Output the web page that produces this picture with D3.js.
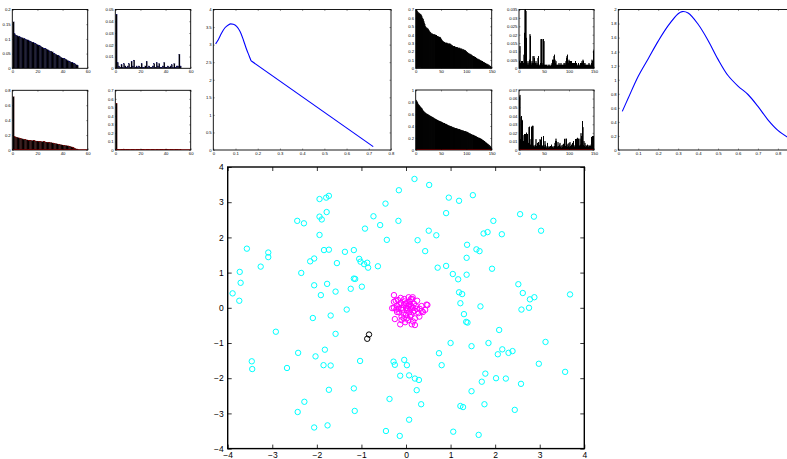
<!DOCTYPE html>
<html><head><meta charset="utf-8">
<script src="https://cdn.jsdelivr.net/npm/d3@7"></script>
<style>
html,body{margin:0;padding:0;background:#fff;}
svg{display:block;font-family:"Liberation Sans",Arial,Helvetica,sans-serif;}
</style></head>
<body>
<script>
// ---------------- DATA ----------------
// Top-left histograms (52 bins each, x 1..52)
const histA = [0.158,0.117,0.113,0.111,0.109,0.107,0.105,0.104,0.102,0.100,0.098,0.097,0.095,0.093,0.091,0.089,0.087,0.085,0.083,0.081,0.079,0.077,0.074,0.072,0.069,0.068,0.066,0.064,0.061,0.059,0.058,0.056,0.052,0.049,0.047,0.045,0.043,0.040,0.037,0.035,0.034,0.032,0.030,0.027,0.025,0.023,0.021,0.019,0.017,0.015,0.012,0.010];
const histB = [0.046,0.005,0.002,0.001,0.003,0.001,0.004,0.002,0.001,0.002,0.004,0.001,0.006,0.002,0.007,0.001,0.002,0.001,0.002,0.001,0.004,0.001,0.001,0.002,0.006,0.001,0.002,0.001,0.001,0.002,0.004,0.001,0.005,0.002,0.004,0.001,0.001,0.002,0.005,0.001,0.001,0.002,0.001,0.002,0.003,0.001,0.004,0.001,0.002,0.002,0.012,0.002];
const histC = [0.715,0.180,0.175,0.170,0.165,0.160,0.155,0.150,0.145,0.140,0.137,0.135,0.133,0.131,0.129,0.127,0.125,0.123,0.121,0.120,0.118,0.116,0.114,0.113,0.111,0.109,0.107,0.105,0.104,0.102,0.099,0.095,0.092,0.088,0.085,0.081,0.077,0.073,0.070,0.067,0.064,0.062,0.059,0.056,0.054,0.049,0.043,0.036,0.029,0.022,0.015,0.009];
const histD = [0.547,0.004,0.003,0.005,0.004,0.003,0.012,0.006,0.003,0.002,0.004,0.003,0.002,0.003,0.004,0.002,0.003,0.002,0.003,0.002,0.003,0.004,0.002,0.003,0.002,0.003,0.002,0.003,0.004,0.003,0.002,0.003,0.002,0.003,0.004,0.002,0.003,0.002,0.003,0.004,0.002,0.003,0.002,0.003,0.002,0.003,0.004,0.002,0.003,0.002,0.003,0.002];
// Right histograms (150 bins each, x 1..150)
const histE = [0.70,0.69,0.68,0.67,0.66,0.66,0.65,0.65,0.64,0.64,0.63,0.62,0.60,0.59,0.58,0.56,0.54,0.52,0.50,0.49,0.48,0.48,0.47,0.47,0.46,0.45,0.44,0.43,0.43,0.42,0.41,0.41,0.41,0.40,0.40,0.40,0.40,0.40,0.39,0.39,0.39,0.38,0.38,0.38,0.37,0.37,0.37,0.37,0.36,0.35,0.34,0.33,0.32,0.32,0.31,0.31,0.31,0.30,0.30,0.30,0.30,0.30,0.29,0.29,0.29,0.29,0.29,0.29,0.28,0.28,0.27,0.27,0.26,0.26,0.26,0.26,0.26,0.25,0.25,0.25,0.25,0.25,0.24,0.24,0.24,0.24,0.24,0.23,0.23,0.23,0.23,0.22,0.22,0.22,0.22,0.21,0.21,0.21,0.20,0.20,0.19,0.19,0.18,0.18,0.17,0.17,0.17,0.16,0.16,0.16,0.15,0.15,0.14,0.14,0.14,0.13,0.13,0.13,0.12,0.12,0.11,0.11,0.11,0.10,0.10,0.10,0.09,0.09,0.09,0.08,0.08,0.08,0.07,0.07,0.07,0.06,0.06,0.06,0.05,0.05,0.05,0.04,0.04,0.04,0.03,0.03,0.02,0.02,0.01,0.01];
const histF = [0.004,0.013,0.003,0.002,0.004,0.003,0.004,0.002,0.003,0.008,0.021,0.035,0.035,0.034,0.018,0.003,0.002,0.004,0.002,0.003,0.005,0.020,0.019,0.003,0.002,0.004,0.003,0.007,0.003,0.007,0.006,0.002,0.003,0.004,0.002,0.003,0.002,0.006,0.007,0.002,0.001,0.002,0.003,0.017,0.017,0.017,0.002,0.003,0.017,0.016,0.002,0.001,0.002,0.001,0.002,0.001,0.001,0.002,0.001,0.002,0.001,0.002,0.001,0.001,0.002,0.003,0.005,0.004,0.005,0.007,0.008,0.005,0.003,0.004,0.002,0.001,0.002,0.001,0.002,0.003,0.002,0.001,0.002,0.003,0.002,0.001,0.002,0.001,0.002,0.003,0.002,0.003,0.002,0.004,0.006,0.007,0.008,0.004,0.003,0.005,0.004,0.003,0.004,0.003,0.004,0.002,0.003,0.002,0.003,0.002,0.003,0.002,0.004,0.002,0.003,0.002,0.001,0.002,0.003,0.002,0.001,0.002,0.003,0.002,0.003,0.004,0.003,0.005,0.004,0.003,0.002,0.003,0.002,0.001,0.002,0.001,0.002,0.001,0.002,0.003,0.002,0.002,0.001,0.002,0.003,0.005,0.004,0.003,0.010,0.011];
const histG = [0.83,0.81,0.80,0.78,0.76,0.75,0.74,0.73,0.72,0.71,0.70,0.69,0.68,0.66,0.65,0.64,0.63,0.62,0.62,0.61,0.60,0.60,0.59,0.59,0.58,0.58,0.57,0.57,0.56,0.56,0.55,0.55,0.54,0.54,0.53,0.53,0.52,0.52,0.51,0.51,0.50,0.50,0.49,0.49,0.48,0.48,0.48,0.47,0.47,0.47,0.46,0.46,0.45,0.45,0.44,0.44,0.44,0.43,0.43,0.43,0.42,0.42,0.41,0.41,0.40,0.40,0.40,0.39,0.39,0.39,0.38,0.38,0.38,0.37,0.37,0.37,0.36,0.36,0.36,0.36,0.35,0.35,0.35,0.34,0.34,0.34,0.34,0.33,0.33,0.33,0.32,0.32,0.32,0.32,0.31,0.31,0.31,0.31,0.30,0.30,0.30,0.29,0.29,0.28,0.28,0.27,0.27,0.27,0.26,0.26,0.25,0.25,0.25,0.24,0.24,0.23,0.23,0.23,0.22,0.22,0.21,0.21,0.20,0.20,0.20,0.19,0.19,0.18,0.18,0.18,0.17,0.16,0.16,0.15,0.14,0.14,0.13,0.12,0.12,0.11,0.10,0.10,0.09,0.08,0.08,0.07,0.06,0.05,0.04,0.02];
const histH = [0.062,0.064,0.012,0.038,0.039,0.035,0.034,0.006,0.010,0.017,0.018,0.005,0.018,0.004,0.020,0.006,0.018,0.003,0.008,0.026,0.027,0.004,0.006,0.012,0.027,0.005,0.028,0.028,0.004,0.005,0.003,0.004,0.006,0.012,0.004,0.003,0.008,0.004,0.009,0.003,0.005,0.012,0.011,0.004,0.015,0.005,0.004,0.003,0.016,0.005,0.003,0.010,0.006,0.003,0.002,0.004,0.008,0.003,0.002,0.004,0.003,0.002,0.004,0.003,0.006,0.002,0.003,0.004,0.002,0.003,0.004,0.008,0.010,0.013,0.010,0.004,0.003,0.009,0.004,0.003,0.006,0.008,0.003,0.004,0.002,0.005,0.003,0.006,0.007,0.003,0.012,0.013,0.004,0.003,0.013,0.005,0.003,0.007,0.004,0.008,0.003,0.009,0.004,0.003,0.006,0.004,0.008,0.003,0.010,0.004,0.003,0.005,0.012,0.004,0.012,0.013,0.014,0.004,0.013,0.005,0.004,0.013,0.006,0.019,0.016,0.004,0.033,0.026,0.005,0.010,0.004,0.008,0.003,0.005,0.004,0.003,0.006,0.004,0.003,0.005,0.004,0.003,0.004,0.006,0.015,0.004,0.016,0.015,0.016,0.004];

// Line chart 1 (hump then straight descent)
const line1HumpX = [0.0105,0.0225,0.0375,0.0525,0.0676,0.078,0.09,0.105,0.12,0.135,0.15,0.162,0.17];
const line1HumpY = [3.02,3.14,3.33,3.48,3.56,3.59,3.58,3.52,3.38,3.14,2.86,2.67,2.54];
const line1TailX = [0.17,0.72];
const line1TailY = [2.54,0.095];

// Line chart 2 (smooth density-like curve)
const line2X = [0.02,0.05,0.10,0.15,0.20,0.25,0.30,0.32,0.35,0.40,0.45,0.50,0.55,0.60,0.65,0.70,0.75,0.80,0.85];
const line2Y = [0.55,0.74,1.05,1.30,1.55,1.77,1.94,1.97,1.95,1.79,1.56,1.29,1.06,0.91,0.79,0.62,0.43,0.28,0.18];

// Scatter: cyan points
const cyanX = [-1.73,-1.79,-1.94,-1.78,-1.94,-1.89,-0.46,-0.73,-0.92,-0.58,-0.43,-1.94,-2.44,-2.29,-3.57,-3.09,-3.09,-3.26,-3.73,-3.71,-3.89,-3.74,-2.35,-2.15,-2.06,-1.84,-1.73,-1.55,-1.37,-1.17,-1.05,-1.02,-0.94,-0.87,-0.85,-0.63,-1.17,-1.14,-2.06,-1.77,-1.91,-1.58,-1.24,-0.99,-1.33,
 0.19,-0.16,0.52,0.96,1.19,1.50,0.90,-0.17,0.51,0.68,0.26,0.43,1.37,1.36,1.58,1.65,1.74,1.83,1.96,2.15,2.56,2.87,3.03,0.71,0.90,1.05,1.17,1.36,1.93,2.52,2.62,2.88,2.78,3.68,1.19,1.26,1.22,1.67,2.59,2.76,
 1.30,1.35,1.38,2.09,1.00,1.85,1.47,3.13,0.74,2.16,2.06,2.30,2.39,2.98,3.57,-0.28,-0.25,-0.04,0.02,0.80,-0.13,0.07,0.20,0.29,1.78,1.70,2.02,2.24,2.58,0.24,1.47,0.34,1.22,1.28,1.76,2.44,0.07,1.06,-0.14,1.63,-0.37,
 -2.09,-1.69,-2.92,-1.58,-2.42,-2.03,-1.82,-3.46,-3.45,-2.67,-1.85,-1.69,-1.03,-1.73,-1.17,-2.28,-2.43,-1.15,-2.06,-1.76,-0.45];
const cyanY = [3.18,3.13,3.09,2.72,2.59,2.51,2.96,2.60,2.25,2.35,1.93,2.07,2.47,2.40,1.68,1.57,1.44,1.17,1.02,0.71,0.41,0.20,0.99,1.32,1.40,1.64,1.65,1.27,1.59,1.64,1.39,1.31,1.24,1.28,1.14,1.18,0.83,0.82,0.64,0.68,0.36,0.46,0.54,0.60,-0.05,
 3.66,3.34,3.49,3.13,3.04,3.20,2.69,2.47,2.19,2.06,1.92,1.61,1.79,1.42,1.66,1.61,2.11,2.15,2.47,2.09,2.66,2.59,2.19,1.14,1.19,0.96,0.81,0.94,1.11,0.67,0.42,0.30,0.24,0.38,0.44,0.39,0.13,0.04,-0.05,0.00,
 -0.18,-0.40,-0.42,-0.63,-1.00,-1.00,-1.09,-0.97,-1.29,-1.18,-1.32,-1.28,-1.23,-1.59,-1.82,-1.53,-1.62,-1.48,-1.63,-1.63,-1.93,-1.92,-2.01,-2.05,-1.87,-2.10,-2.00,-2.01,-2.16,-2.34,-2.37,-2.74,-2.79,-2.82,-2.74,-2.90,-3.18,-3.52,-3.64,-3.61,-2.59,
 -0.29,-0.22,-0.68,-0.74,-1.28,-1.38,-1.19,-1.52,-1.74,-1.71,-1.63,-1.64,-1.51,-2.33,-2.29,-2.67,-2.96,-2.93,-3.40,-3.34,-3.50];
// Scatter: magenta cluster
const magentaX = [-0.27,-0.23,-0.04,0.11,0.14,-0.12,0.00,0.07,-0.27,-0.17,-0.10,0.00,0.16,0.24,0.31,0.43,0.48,0.35,-0.15,-0.06,0.07,0.16,-0.25,-0.10,0.02,0.09,0.20,-0.13,0.16,0.20,-0.02,0.05,-0.31,-0.27,0.46,0.13,-0.20,
 0.05,-0.05,0.12,0.02,-0.08,0.18,0.10,-0.03,0.08,0.22,-0.15,0.00,0.12,-0.20,0.28,-0.05,0.06,-0.12,0.25,0.35,0.04,-0.10,0.15,-0.18,0.30,0.09,-0.22,0.19,0.01,0.38];
const magentaY = [0.36,0.20,0.25,0.25,0.25,0.13,0.13,0.08,0.00,-0.03,0.00,0.00,0.00,-0.03,-0.03,-0.06,0.08,-0.09,-0.13,-0.16,-0.13,-0.11,-0.32,-0.25,-0.30,-0.25,-0.30,-0.47,-0.39,-0.49,-0.41,-0.35,-0.01,0.17,0.09,-0.47,0.06,
 0.05,0.08,0.05,-0.08,-0.06,0.12,-0.05,0.18,0.18,0.05,0.10,-0.20,-0.20,-0.12,-0.15,-0.30,0.30,0.28,0.20,0.05,-0.02,-0.35,0.30,0.22,-0.25,0.10,-0.05,-0.08,0.10,-0.12];
// Scatter: black points
const blackX = [-0.83,-0.87];
const blackY = [-0.76,-0.88];

// Tick values
const ticks60 = [0,20,40,60];
const ticks150 = [0,50,100,150];
const ticksA = [0,0.05,0.1,0.15,0.2];
const ticksB = [0,0.01,0.02,0.03,0.04,0.05];
const ticksC = [0,0.2,0.4,0.6,0.8];
const ticksD = [0,0.1,0.2,0.3,0.4,0.5,0.6,0.7];
const ticksE = [0,0.1,0.2,0.3,0.4,0.5,0.6,0.7];
const ticksF = [0,0.005,0.01,0.015,0.02,0.025,0.03,0.035];
const ticksG = [0,0.2,0.4,0.6,0.8,1];
const ticksH = [0,0.01,0.02,0.03,0.04,0.05,0.06,0.07];
const ticksL1x = [0,0.1,0.2,0.3,0.4,0.5,0.6,0.7,0.8];
const ticksL1y = [0,0.5,1,1.5,2,2.5,3,3.5,4];
const ticksL2x = [0,0.1,0.2,0.3,0.4,0.5,0.6,0.7,0.8];
const ticksL2y = [0,0.2,0.4,0.6,0.8,1,1.2,1.4,1.6,1.8,2];
const ticksS = [-4,-3,-2,-1,0,1,2,3,4];

// ---------------- DRAW ----------------
const W = 787, H = 459;
const svg = d3.select("body").append("svg").attr("width", W).attr("height", H);
svg.append("rect").attr("width", W).attr("height", H).attr("fill", "#fff");
const defs = svg.append("defs");
let clipN = 0;

function panel(L, T, R, B, xd, yd, xt, yt, o) {
  const fs = o.fs, tl = o.tl, lw = o.lw;
  const x = d3.scaleLinear().domain(xd).range([L, R]);
  const y = d3.scaleLinear().domain(yd).range([B, T]);
  const id = "clip" + (clipN++);
  defs.append("clipPath").attr("id", id).append("rect")
    .attr("x", L).attr("y", T).attr("width", R - L).attr("height", B - T);
  const g = svg.append("g");
  const plot = g.append("g").attr("clip-path", `url(#${id})`);
  function finish() {
    const ax = g.append("g");
    const style = sel => {
      sel.select(".domain").remove();
      sel.selectAll(".tick line").attr("stroke", "#000").attr("stroke-width", o.tw);
      sel.selectAll(".tick text").attr("fill", "#000").attr("font-size", fs)
        .attr("font-family", "Liberation Sans, Arial, sans-serif");
    };
    const xtv = xt.filter(v => x(v) <= W + 1);
    ax.append("g").attr("transform", `translate(0,${B})`)
      .call(d3.axisBottom(x).tickValues(xtv).tickSizeInner(-tl).tickSizeOuter(0).tickPadding(o.px).tickFormat(d3.format("")))
      .call(style);
    ax.append("g").attr("transform", `translate(0,${T})`)
      .call(d3.axisTop(x).tickValues(xtv).tickSizeInner(-tl).tickSizeOuter(0).tickFormat(() => ""))
      .call(style);
    ax.append("g").attr("transform", `translate(${L},0)`)
      .call(d3.axisLeft(y).tickValues(yt).tickSizeInner(-tl).tickSizeOuter(0).tickPadding(o.py).tickFormat(d3.format("")))
      .call(style);
    ax.append("g").attr("transform", `translate(${R},0)`)
      .call(d3.axisRight(y).tickValues(yt).tickSizeInner(-tl).tickSizeOuter(0).tickFormat(() => ""))
      .call(style);
    ax.append("rect").attr("x", L).attr("y", T).attr("width", R - L).attr("height", B - T)
      .attr("fill", "none").attr("stroke", "#000").attr("stroke-width", lw);
  }
  return { x, y, plot, finish };
}

const small = { fs: 4.2, tl: 1.5, lw: 0.9, tw: 0.4, px: 1.6, py: 1.6 };

function bars(p, vals, edge, ew, over) {
  const bw = Math.abs(p.x(1) - p.x(0));
  const w = bw * (over || 1);
  p.plot.selectAll("rect.bar").data(vals).join("rect").attr("class", "bar")
    .attr("x", (d, i) => p.x(i + 1) - w / 2)
    .attr("width", w)
    .attr("y", d => p.y(d))
    .attr("height", d => p.y(0) - p.y(d))
    .attr("fill", "#000")
    .attr("stroke", edge).attr("stroke-width", ew);
}
function baseline(p, color) {
  p.plot.append("line").attr("x1", p.x.range()[0]).attr("x2", p.x.range()[1])
    .attr("y1", p.y(0) - 0.4).attr("y2", p.y(0) - 0.4)
    .attr("stroke", color).attr("stroke-width", 0.8);
}

// Panel A
const pA = panel(12.3, 9.5, 87.7, 68.3, [0, 60], [0, 0.2], ticks60, ticksA, small);
bars(pA, histA, "#0a0a60", 0.15, 1.1); pA.finish();
// Panel B
const pB = panel(115.3, 9.5, 190.7, 68.3, [0, 60], [0, 0.05], ticks60, ticksB, small);
bars(pB, histB, "#0a0a60", 0.2, 1.0); pB.finish();
// Panel C
const pC = panel(12.3, 90.3, 87.7, 150, [0, 60], [0, 0.8], ticks60, ticksC, small);
bars(pC, histC, "#700000", 0.15, 1.1); baseline(pC, "#d00000"); pC.finish();
// Panel D
const pD = panel(115.3, 90.3, 190.7, 150, [0, 60], [0, 0.7], ticks60, ticksD, small);
bars(pD, histD, "#700000", 0.2, 1.0); baseline(pD, "#d00000"); pD.finish();

// Line chart 1
const pL1 = panel(213.3, 9.5, 391, 150, [0, 0.8], [0, 4], ticksL1x, ticksL1y, small);
pL1.plot.append("path").datum(line1HumpX.map((v, i) => [v, line1HumpY[i]]))
  .attr("d", d3.line().x(d => pL1.x(d[0])).y(d => pL1.y(d[1])).curve(d3.curveMonotoneX))
  .attr("fill", "none").attr("stroke", "#0000ff").attr("stroke-width", 1.1);
pL1.plot.append("path").datum(line1TailX.map((v, i) => [v, line1TailY[i]]))
  .attr("d", d3.line().x(d => pL1.x(d[0])).y(d => pL1.y(d[1])))
  .attr("fill", "none").attr("stroke", "#0000ff").attr("stroke-width", 1.1);
pL1.finish();

// Panels E-H
const pE = panel(415.7, 9.5, 491.7, 68.3, [0, 150], [0, 0.7], ticks150, ticksE, small);
bars(pE, histE, "#000", 0.6); pE.finish();
const pF = panel(519, 9.5, 594, 68.3, [0, 150], [0, 0.035], ticks150, ticksF, small);
bars(pF, histF, "#000", 0.5); pF.finish();
const pG = panel(415.7, 90, 491.7, 150, [0, 150], [0, 1], ticks150, ticksG, small);
bars(pG, histG, "#000", 0.6); baseline(pG, "#d00000"); pG.finish();
const pH = panel(519, 90, 594, 150, [0, 150], [0, 0.07], ticks150, ticksH, small);
bars(pH, histH, "#000", 0.5); baseline(pH, "#d00000"); pH.finish();

// Line chart 2
const pL2 = panel(618.3, 9.5, 618.3 + 0.9 * 199.5, 150, [0, 0.9], [0, 2], ticksL2x, ticksL2y, small);
pL2.plot.append("path").datum(line2X.map((v, i) => [v, line2Y[i]]))
  .attr("d", d3.line().x(d => pL2.x(d[0])).y(d => pL2.y(d[1])).curve(d3.curveCatmullRom))
  .attr("fill", "none").attr("stroke", "#0000ff").attr("stroke-width", 1.1);
pL2.finish();

// Scatter
const pS = panel(227.7, 167, 584.3, 448.6, [-4, 4], [-4, 4], ticksS, ticksS,
  { fs: 8.5, tl: 4, lw: 1.4, tw: 0.8, px: 3, py: 4 });
function pts(xs, ys, color) {
  pS.plot.append("g").selectAll("circle").data(xs).join("circle")
    .attr("cx", d => pS.x(d)).attr("cy", (d, i) => pS.y(ys[i])).attr("r", 2.7)
    .attr("fill", "none").attr("stroke", color).attr("stroke-width", 1);
}
pts(cyanX, cyanY, "#00ffff");
pts(magentaX, magentaY, "#ff00ff");
pts(blackX, blackY, "#000");
pS.finish();
</script>
</body></html>
